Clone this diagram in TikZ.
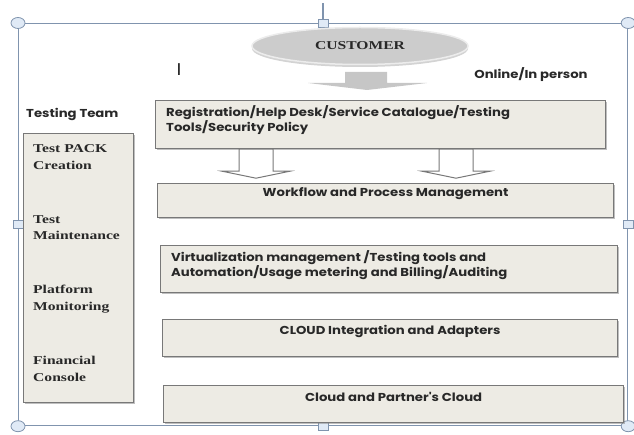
\documentclass[tikz,border=0pt]{standalone}
\usepackage{fontspec}
\setmainfont{Liberation Serif}
\newfontfamily\gothic[FakeStretch=1.15]{Poppins}
\newfontfamily\timeswide[FakeStretch=1.3]{Liberation Serif}
\usetikzlibrary{positioning,shapes.geometric,shadows}
\definecolor{boxfill}{RGB}{237,235,228}
\definecolor{boxline}{RGB}{120,120,120}
\definecolor{framecol}{RGB}{128,148,174}
\definecolor{gripfill}{RGB}{224,234,246}
\definecolor{inkgray}{RGB}{40,40,40}

\tikzset{
	hollowarrow/.pic={
		\draw[draw=boxline, fill=white, line width=1pt]
		(-17,0) -- (17,0) -- (17,22) -- (34,22) -- (0,29) -- (-34,22) -- (-17,22) -- cycle;
	}
}

\begin{document}
\begin{tikzpicture}[x=1pt, y=-1pt,
		layer/.style={draw=boxline, line width=1.2pt, fill=boxfill, anchor=north west,
			drop shadow={shadow xshift=1pt, shadow yshift=-1.5pt, fill=gray, opacity=0.5}},
		caption/.style={inner sep=0pt, text=inkgray, font=\gothic\bfseries\fontsize{11.5}{15}\selectfont},
		duty/.style={inner sep=0pt, anchor=west, align=left, text=inkgray,
			font=\timeswide\bfseries\fontsize{12}{16.5}\selectfont},
		client/.style={ellipse, draw=gray!15, line width=1.5pt, fill=gray!40,
			minimum width=216pt, minimum height=37pt, inner sep=0pt,
			drop shadow={shadow xshift=0pt, shadow yshift=-2.5pt, fill=gray, opacity=0.35},
			font=\timeswide\bfseries\fontsize{12}{14}\selectfont, text=inkgray},
		cornergrip/.style={ellipse, draw=framecol, fill=gripfill, line width=0.8pt,
			minimum width=14pt, minimum height=11pt, inner sep=0pt},
		sidegrip/.style={rectangle, draw=framecol, fill=gripfill, line width=0.8pt,
			minimum width=10pt, minimum height=8pt, inner sep=0pt}
		]
	\useasboundingbox (0,0) rectangle (634,435);

	% selected drawing canvas
	\node[draw=framecol, line width=1.2pt, anchor=north west, minimum width=609pt,
		minimum height=402pt, inner sep=0pt] (canvas) at (18,23) {};
	\draw[framecol, line width=1.5pt] (canvas.north) -- ++(0,-20);
	\foreach \c/\n in {north west/nw, north east/ne, south west/sw, south east/se}
		\node[cornergrip] (grip\n) at (canvas.\c) {};
	\foreach \c/\n in {north/n, south/s, west/w, east/e}
		\node[sidegrip] (grip\n) at (canvas.\c) {};

	% customer on top
	\node[client] (customer) at (360,46) {CUSTOMER};
	\node[inner sep=0pt, text=inkgray, font=\gothic\fontsize{17}{17}\selectfont] (cursor) at (179,70) {I};
	\node[caption] (channel) at (531,75) {Online/In person};
	\coordinate (entry) at (366,72);
	\fill[gray!45] (entry) ++(-21,0) -- ++(42,0) -- ++(0,11) -- ++(40,0) -- ++(-60,7)
		-- ++(-59,-7) -- ++(37,0) -- cycle;

	% layers
	\node[layer, minimum width=450pt, minimum height=48pt] (reg) at (155,100) {};
	\node[layer, minimum width=456pt, minimum height=34pt] (flow) at (157,183) {};
	\node[layer, minimum width=457pt, minimum height=47pt] (virt) at (160,245) {};
	\node[layer, minimum width=455pt, minimum height=37pt] (integ) at (162,319) {};
	\node[layer, minimum width=460pt, minimum height=37pt] (cloud) at (163,385) {};

	\node[caption, anchor=west, align=left, xshift=11pt] (regtxt) at (reg.west |- 0,120.5)
		{Registration/Help Desk/Service Catalogue/Testing\\Tools/Security Policy};
	\node[caption] (flowtxt) at (flow.north |- 0,194) {Workflow and Process Management};
	\node[caption, anchor=west, align=left, xshift=11pt] (virttxt) at (virt.west |- 0,265.5)
		{Virtualization management /Testing tools and\\Automation/Usage metering and Billing/Auditing};
	\node[caption] (integtxt) at (integ.north |- 0,331) {CLOUD Integration and Adapters};
	\node[caption] (cloudtxt) at (cloud.north |- 0,397) {Cloud and Partner's Cloud};

	\pic at (reg.south -| 256,0) {hollowarrow};
	\pic at (reg.south -| 456,0) {hollowarrow};

	% testing team
	\node[caption, anchor=west] (team) at (26,114) {Testing Team};
	\node[layer, minimum width=110pt, minimum height=269pt] (teambox) at (23,133) {};
	\foreach \n/\t/\y in {pack/{Test PACK\\Creation}/157, maint/{Test\\Maintenance}/227.5,
		monit/{Platform\\Monitoring}/299, fin/{Financial\\Console}/369}
		\node[duty, xshift=10pt] (\n) at (teambox.west |- 0,\y) {\t};
\end{tikzpicture}
\end{document}
